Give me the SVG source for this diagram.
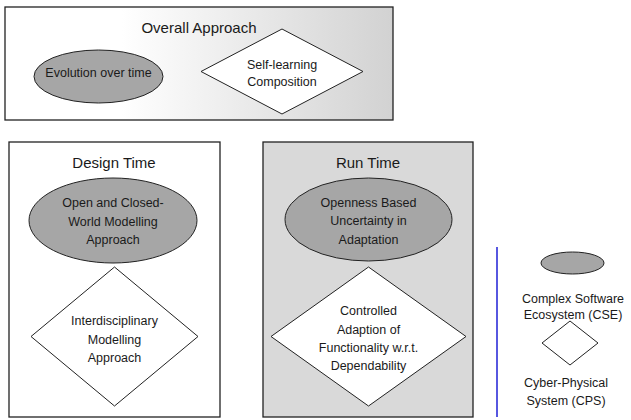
<svg xmlns="http://www.w3.org/2000/svg" width="631" height="420" viewBox="0 0 631 420">
<defs>
<linearGradient id="g" x1="0" y1="0" x2="1" y2="0">
<stop offset="0" stop-color="#ffffff"/>
<stop offset="0.3" stop-color="#ffffff"/>
<stop offset="1" stop-color="#d2d2d2"/>
</linearGradient>
</defs>
<style>
text{font-family:"Liberation Sans",Arial,sans-serif;fill:#1a1a1a;text-anchor:middle}
.t{font-size:15px}
.n{font-size:12.5px}
.box{stroke:#222;stroke-width:1.3}
.el{fill:#a6a6a6;stroke:#222;stroke-width:1}
.dm{fill:#fff;stroke:#222;stroke-width:1}
</style>
<g id="overall">
<rect class="box" x="5" y="7" width="388" height="113" fill="url(#g)"/>
<text class="t" x="199" y="33">Overall Approach</text>
</g>
<g id="evolution">
<ellipse class="el" cx="98.5" cy="76.5" rx="64.5" ry="26.5"/>
<text class="n" x="98.5" y="77">Evolution over time</text>
</g>
<g id="selflearning">
<polygon class="dm" points="282,29 363,71.5 282,114 201,71.5"/>
<text class="n" x="282" y="69">Self-learning</text>
<text class="n" x="282" y="86">Composition</text>
</g>
<g id="design">
<rect class="box" x="9" y="142" width="211" height="275" fill="#fff"/>
<text class="t" x="114" y="168">Design Time</text>
</g>
<g id="openclosed">
<ellipse class="el" cx="113" cy="220.5" rx="84" ry="42.5"/>
<text class="n" x="113" y="207">Open and Closed-</text>
<text class="n" x="113" y="226">World Modelling</text>
<text class="n" x="113" y="244">Approach</text>
</g>
<g id="interdisciplinary">
<polygon class="dm" points="114.5,267 198,336.5 114.5,406 31,336.5"/>
<text class="n" x="114.5" y="325">Interdisciplinary</text>
<text class="n" x="114.5" y="344">Modelling</text>
<text class="n" x="114.5" y="362">Approach</text>
</g>
<g id="runtime">
<rect class="box" x="263" y="142" width="210" height="275" fill="#d9d9d9"/>
<text class="t" x="368" y="168">Run Time</text>
</g>
<g id="openness">
<ellipse class="el" cx="368.5" cy="219.5" rx="83.5" ry="41.5"/>
<text class="n" x="368.5" y="207">Openness Based</text>
<text class="n" x="368.5" y="225">Uncertainty in</text>
<text class="n" x="368.5" y="244">Adaptation</text>
</g>
<g id="controlled">
<polygon class="dm" points="368.5,267 466,336.5 368.5,406 271,336.5"/>
<text class="n" x="368.5" y="315">Controlled</text>
<text class="n" x="368.5" y="334">Adaption of</text>
<text class="n" x="368.5" y="352">Functionality w.r.t.</text>
<text class="n" x="368.5" y="370">Dependability</text>
</g>
<g id="connectors">
<line x1="497" y1="247" x2="497" y2="417" stroke="#1f1fd6" stroke-width="1.5"/>
</g>
<g id="legend-cse">
<ellipse class="el" cx="572.5" cy="263" rx="31.5" ry="11"/>
<text class="n" x="573" y="303">Complex Software</text>
<text class="n" x="573" y="319">Ecosystem (CSE)</text>
</g>
<g id="legend-cps">
<polygon class="dm" points="570,321 598,343 570,365 542,343"/>
<text class="n" x="566" y="387">Cyber-Physical</text>
<text class="n" x="566" y="405">System (CPS)</text>
</g>
</svg>
